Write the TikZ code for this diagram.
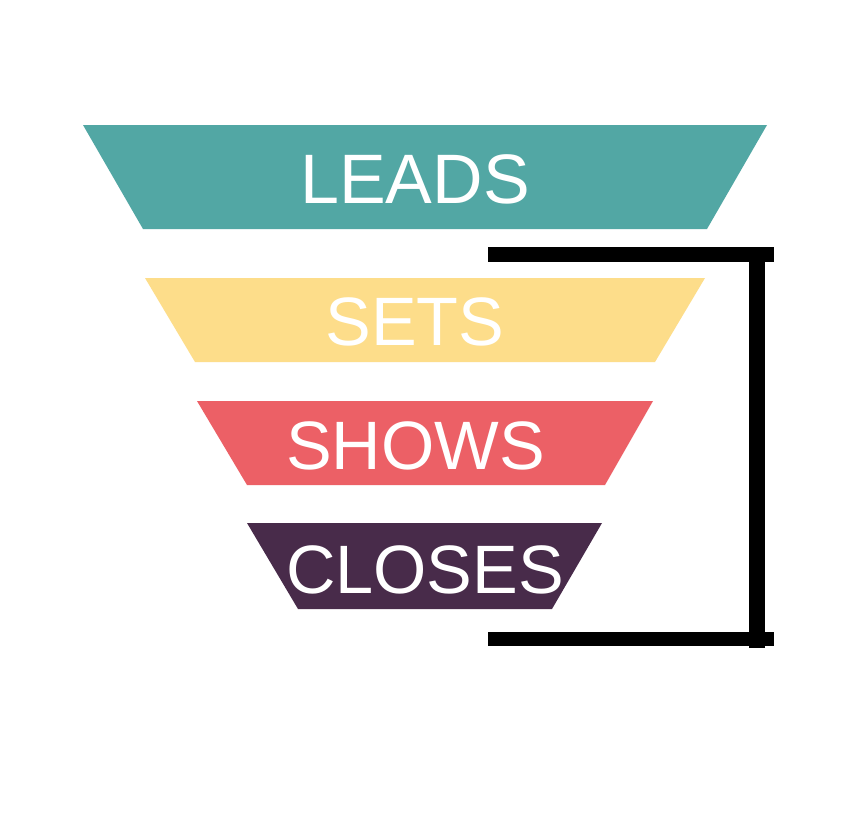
\documentclass[tikz,border=0pt]{standalone}
\usepackage{fontspec}
\setmainfont{Liberation Sans}
\definecolor{cteal}{RGB}{82,167,164}
\definecolor{cyellow}{RGB}{253,221,138}
\definecolor{cred}{RGB}{236,96,102}
\definecolor{cpurple}{RGB}{72,43,74}
\begin{document}
\begin{tikzpicture}[x=1pt,y=-1pt,
  lbl/.style={text=white,anchor=base,inner sep=0pt},
  barfill/.style={fill=black}]
\useasboundingbox (0,0) rectangle (850,814);
\fill[white] (0,0) rectangle (850,814);
% funnel layers
\fill[cteal] (83,125) -- (767,125) -- (707,229) -- (143,229) -- cycle;
\fill[cyellow] (145,278) -- (705,278) -- (655,362) -- (195,362) -- cycle;
\fill[cred] (197,401) -- (653,401) -- (605,485) -- (247,485) -- cycle;
\fill[cpurple] (247,523) -- (602,523) -- (552,609) -- (298,609) -- cycle;
% labels
\node[lbl,font=\fontsize{70}{70}\selectfont] (leads) at (415,203) {LEADS};
\node[lbl,font=\fontsize{68.5}{68.5}\selectfont] (sets) at (415,345.5) {SETS};
\node[lbl,font=\fontsize{68.5}{68.5}\selectfont] (shows) at (415.5,469) {SHOWS};
\node[lbl,font=\fontsize{68.5}{68.5}\selectfont] (closes) at (425,593) {CLOSES};
% bracket
\fill[barfill] (488,247) rectangle (774,262);
\fill[barfill] (749,247) rectangle (765,648);
\fill[barfill] (488,632) rectangle (774,646);
\end{tikzpicture}
\end{document}
